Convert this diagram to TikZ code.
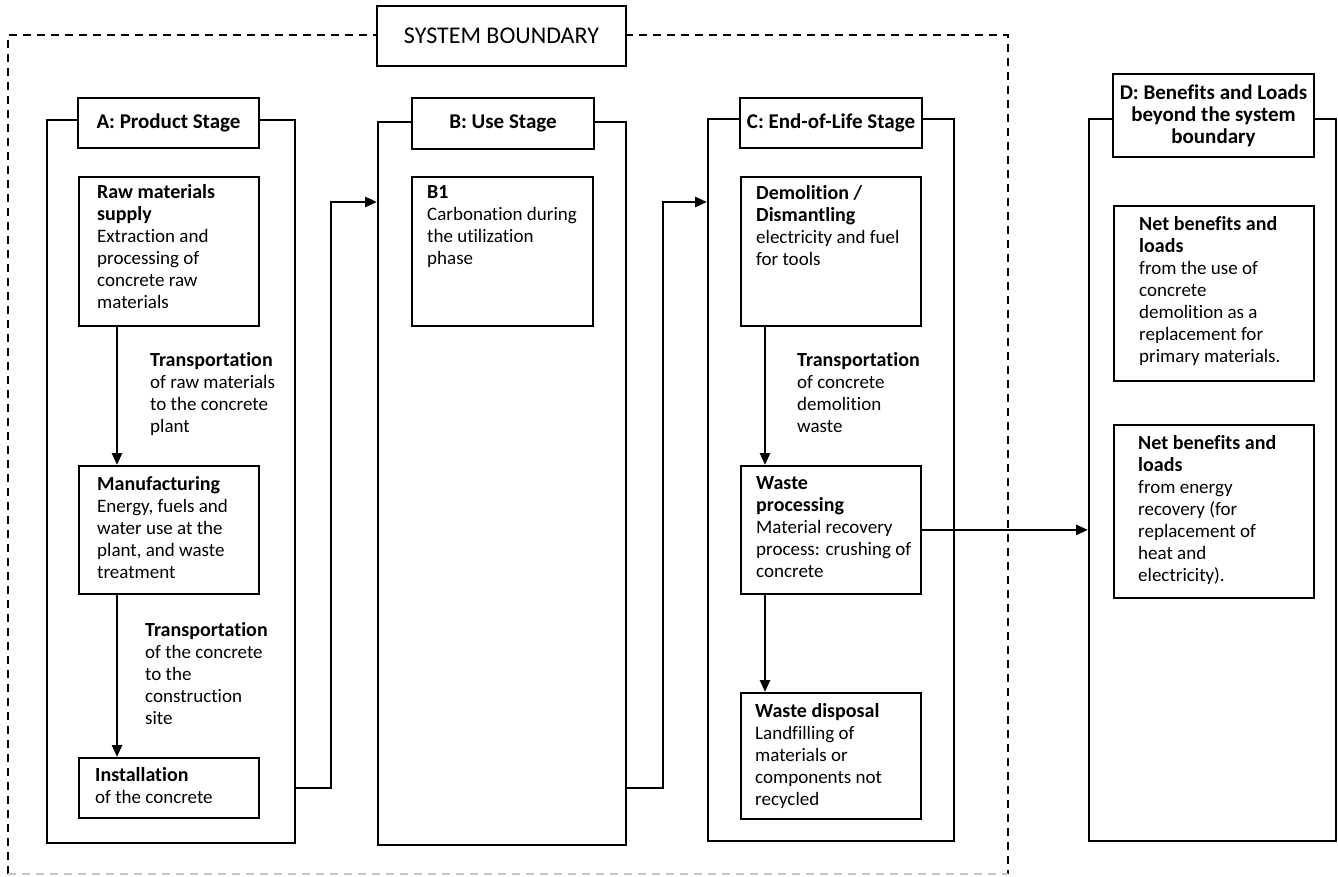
\documentclass[tikz,border=0pt]{standalone}
\usepackage{fontspec}
\setmainfont{Carlito}[Ligatures=NoCommon]
\usetikzlibrary{arrows.meta,calc}

\newcommand{\hd}[1]{{\fontsize{20}{22}\selectfont\bfseries #1}}

\tikzset{
  stagebox/.style={draw, line width=1.8pt, anchor=north west, inner sep=0pt},
  titlebox/.style={draw, line width=2.8pt, fill=white, align=center, inner sep=0pt,
    font=\fontsize{21}{22}\selectfont\bfseries},
  procbox/.style={draw, line width=1.8pt, anchor=north west, inner sep=0pt},
  txt/.style={anchor=north west, inner sep=0pt, align=left, font=\fontsize{19}{22}\selectfont},
  flow/.style={-{Triangle[length=12pt,width=10pt]}, line width=2.6pt},
  boundary/.style={dash pattern=on 8pt off 6pt, line width=1.8pt}
}

\begin{document}
\begin{tikzpicture}[x=1pt,y=-1pt]
\useasboundingbox (0,0) rectangle (1338,877);

% system boundary
\draw[boundary] (8,874) -- (8,35) -- (1008,35) -- (1008,874);
\draw[boundary, gray!45] (8,874) -- (1008,874);
\node[titlebox, font=\fontsize{24}{26}\selectfont, minimum width=249, minimum height=60] (sysb) at (501.5,36) {SYSTEM BOUNDARY};

% stages
\node[stagebox, minimum width=248, minimum height=723] (stageA) at (46,119) {};
\node[stagebox, minimum width=248, minimum height=723] (stageB) at (377,121) {};
\node[stagebox, minimum width=246, minimum height=722] (stageC) at (707,118) {};
\node[stagebox, minimum width=247, minimum height=722] (stageD) at (1088,118) {};

\node[titlebox, minimum width=181, minimum height=50] (titleA) at (168.5,123) {A: Product Stage};
\node[titlebox, minimum width=182, minimum height=51] (titleB) at (503,123.5) {B: Use Stage};
\node[titlebox, minimum width=182, minimum height=50] (titleC) at (831,123) {C: End-of-Life Stage};
\node[titlebox, minimum width=201, minimum height=83] (titleD) at (1213.5,115.5) {D: Benefits and Loads\\beyond the system\\boundary};

% A: product stage
\node[procbox, minimum width=180, minimum height=149] (raw) at (78,176) {};
\node[txt] (rawtxt) at (97,184) {\hd{Raw materials}\\\hd{supply}\\Extraction and\\processing of\\concrete raw\\materials};
\node[procbox, minimum width=180, minimum height=128] (manu) at (78,465) {};
\node[txt] (manutxt) at (97,476) {\hd{Manufacturing}\\Energy, fuels and\\water use at the\\plant, and waste\\treatment};
\node[procbox, minimum width=180, minimum height=60] (inst) at (78,757) {};
\node[txt] (insttxt) at (95,767) {\hd{Installation}\\of the concrete};
\node[txt] (transA) at (150,352) {\hd{Transportation}\\of raw materials\\to the concrete\\plant};
\node[txt] (transB) at (145,622) {\hd{Transportation}\\of the concrete\\to the\\construction\\site};

% B: use stage
\node[procbox, minimum width=181, minimum height=149] (carb) at (411,176) {};
\node[txt] (carbtxt) at (427,185) {\hd{B1}\\Carbonation during\\the utilization\\phase};

% C: end-of-life stage
\node[procbox, minimum width=180, minimum height=149] (demo) at (740,176) {};
\node[txt] (demotxt) at (756,185) {\hd{Demolition /}\\\hd{Dismantling}\\electricity and fuel\\for tools};
\node[procbox, minimum width=180, minimum height=128] (waste) at (740,465) {};
\node[txt] (wastetxt) at (756,476) {\hd{Waste}\\\hd{processing}\\Material recovery\\process: crushing of\\concrete};
\node[procbox, minimum width=180, minimum height=126] (disp) at (740,692) {};
\node[txt] (disptxt) at (755,703) {\hd{Waste disposal}\\Landfilling of\\materials or\\components not\\recycled};
\node[txt] (transC) at (797,352) {\hd{Transportation}\\of concrete\\demolition\\waste};

% D: beyond the system boundary
\node[procbox, minimum width=200, minimum height=175] (netA) at (1113,205) {};
\node[txt] (netAtxt) at (1139,216) {\hd{Net benefits and}\\\hd{loads}\\from the use of\\concrete\\demolition as a\\replacement for\\primary materials.};
\node[procbox, minimum width=200, minimum height=173] (netB) at (1113,424) {};
\node[txt] (netBtxt) at (1138,435) {\hd{Net benefits and}\\\hd{loads}\\from energy\\recovery (for\\replacement of\\heat and\\electricity).};

% flows
\draw[flow] (raw.south -| 117,0) -- (manu.north -| 117,0);
\draw[flow] (manu.south -| 117,0) -- (inst.north -| 117,0);
\draw[flow] (demo.south -| 765,0) -- (waste.north -| 765,0);
\draw[flow] (waste.south -| 765,0) -- (disp.north -| 765,0);
\draw[flow] (stageA.east |- inst.east) -| (331,202) -- (stageB.west |- 0,202);
\draw[flow] (stageB.east |- inst.east) -| (663,202) -- (stageC.west |- 0,202);
\draw[flow] (waste.east) -- (stageD.west |- waste.east);
\end{tikzpicture}
\end{document}
